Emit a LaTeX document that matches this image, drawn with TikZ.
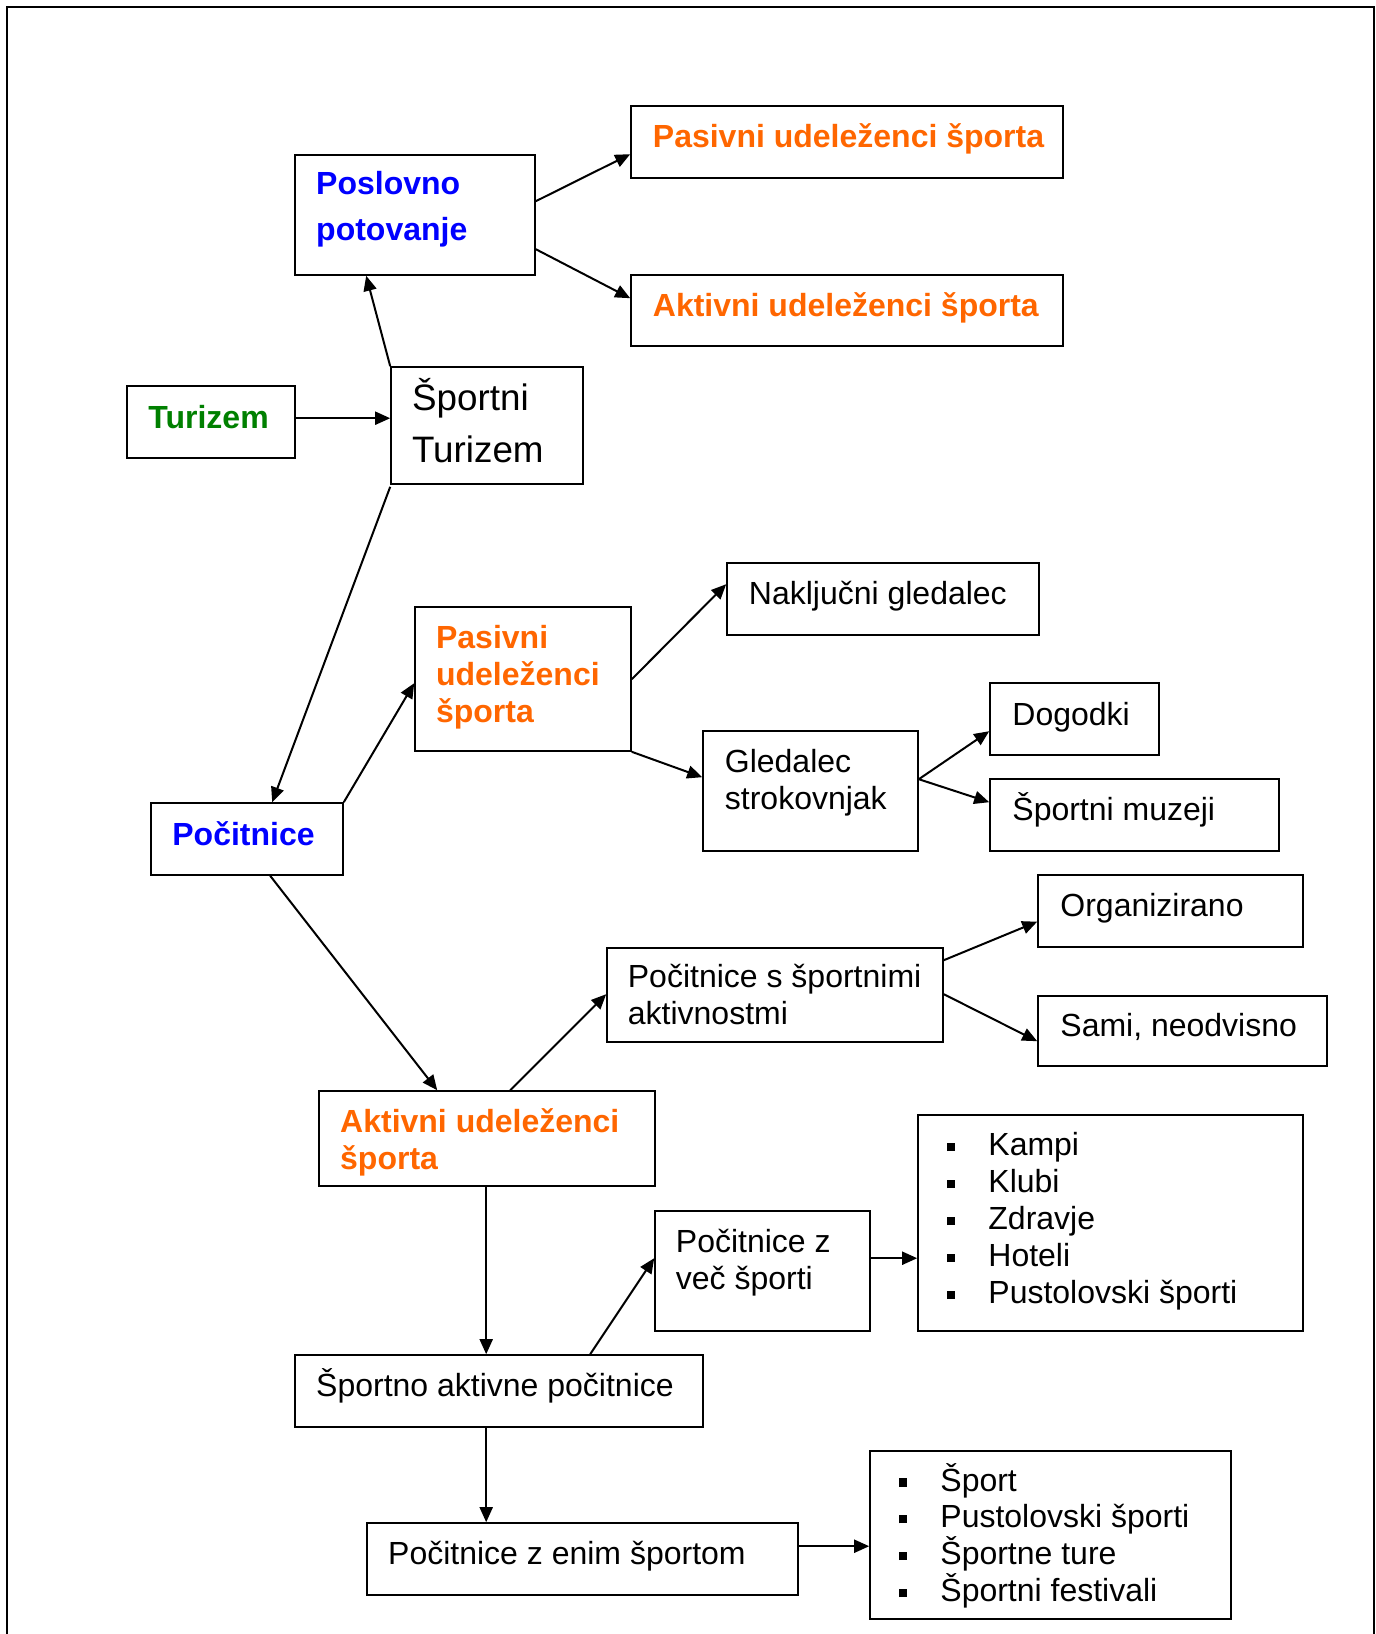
\documentclass[tikz,border=0pt]{standalone}
\usepackage{fontspec}
\setmainfont{Liberation Sans}
\usetikzlibrary{arrows.meta,fit}
\definecolor{orng}{HTML}{FF6600}
\definecolor{blu}{HTML}{0000FF}
\definecolor{grn}{HTML}{008000}
\tikzset{
  box/.style={draw, line width=0.8pt, inner sep=0pt, fill=none},
  txt/.style={anchor=base west, inner sep=0pt, align=left, font=\fontsize{16}{18.5}\selectfont},
  ttl/.style={txt, font=\fontsize{16}{18.5}\selectfont\bfseries},
  arr/.style={line width=1pt, -{Triangle[length=7.5pt,width=6.5pt]}},
}
\newcommand{\bul}{\makebox[20.75pt][l]{\raisebox{2.2pt}{\rule{4.2pt}{4.2pt}}}}
\begin{document}
\begin{tikzpicture}[x=0.5pt,y=-0.5pt]
\useasboundingbox (0,0) rectangle (1376,1634);
\draw[line width=1pt] (7,1640) -- (7,7) -- (1374,7) -- (1374,1640);
% boxes
\node[box, fit={(295,155) (535,275)}] (pos) {};
\node[box, fit={(631,106) (1063,178)}] (pastop) {};
\node[box, fit={(631,275) (1063,346)}] (akttop) {};
\node[box, fit={(127,386) (295,458)}] (tur) {};
\node[box, fit={(391,367) (583,484)}] (st) {};
\node[box, fit={(727,563) (1039,635)}] (nak) {};
\node[box, fit={(415,607) (631,751)}] (pasmid) {};
\node[box, fit={(990,683) (1159,755)}] (dog) {};
\node[box, fit={(703,731) (918,851)}] (gle) {};
\node[box, fit={(990,779) (1279,851)}] (muz) {};
\node[box, fit={(151,803) (343,875)}] (poc) {};
\node[box, fit={(1038,875) (1303,947)}] (org) {};
\node[box, fit={(607,948) (943,1042)}] (pocs) {};
\node[box, fit={(1038,996) (1327,1066)}] (sami) {};
\node[box, fit={(319,1091) (655,1186)}] (aktbot) {};
\node[box, fit={(918,1115) (1303,1331)}] (kampi) {};
\node[box, fit={(655,1211) (870,1331)}] (vec) {};
\node[box, fit={(295,1355) (703,1427)}] (spa) {};
\node[box, fit={(367,1523) (798,1595)}] (enim) {};
\node[box, fit={(870,1451) (1231,1619)}] (sport) {};
% texts (multi-line nodes: base = last line)
\node[ttl, text=blu, font=\fontsize{16}{23}\selectfont\bfseries] (pos-t) at (315.8,240.5) {Poslovno\\potovanje};
\node[ttl, text=orng] (pastop-t) at (652.5,147.6) {Pasivni udeleženci športa};
\node[ttl, text=orng] (akttop-t) at (652.5,316.4) {Aktivni udeleženci športa};
\node[ttl, text=grn] (tur-t) at (148,428) {Turizem};
\node[txt, font=\fontsize{18.4}{26}\selectfont] (st-t) at (411.7,462) {Športni\\Turizem};
\node[txt] (nak-t) at (748.5,604) {Naključni gledalec};
\node[ttl, text=orng] (pasmid-t) at (435.7,722) {Pasivni\\udeleženci\\športa};
\node[txt] (dog-t) at (1012,725) {Dogodki};
\node[txt] (gle-t) at (724.5,809.5) {Gledalec\\strokovnjak};
\node[txt] (muz-t) at (1012,820) {Športni muzeji};
\node[ttl, text=blu] (poc-t) at (172,845) {Počitnice};
\node[txt] (org-t) at (1060,916) {Organizirano};
\node[txt] (pocs-t) at (627.5,1024.5) {Počitnice s športnimi\\aktivnostmi};
\node[txt] (sami-t) at (1060,1036) {Sami, neodvisno};
\node[ttl, text=orng] (aktbot-t) at (339.8,1169) {Aktivni udeleženci\\športa};
\node[txt] (kampi-t) at (946.5,1303.6) {\bul Kampi\\\bul Klubi\\\bul Zdravje\\\bul Hoteli\\\bul Pustolovski športi};
\node[txt] (vec-t) at (675.5,1289) {Počitnice z\\več športi};
\node[txt] (spa-t) at (315.8,1396) {Športno aktivne počitnice};
\node[txt] (enim-t) at (387.8,1564) {Počitnice z enim športom};
\node[txt, font=\fontsize{16}{18.4}\selectfont] (sport-t) at (898.5,1601.4) {\bul Šport\\\bul Pustolovski športi\\\bul Športne ture\\\bul Športni festivali};
% connectors
\draw[arr] ([yshift=-23.5pt]pos.north east) -- ([yshift=-24.5pt]pastop.north west);
\draw[arr] ([yshift=-47.5pt]pos.north east) -- ([yshift=-12pt]akttop.north west);
\draw[arr] (st.north west) -- ([xshift=36pt]pos.south west);
\draw[arr] ([yshift=-16.5pt]tur.north east) -- ([yshift=-26pt]st.north west);
\draw[arr] ([yshift=-1pt]st.south west) -- ([xshift=61pt]poc.north west);
\draw[arr] (poc.north east) -- ([yshift=-38.5pt]pasmid.north west);
\draw[arr] ([yshift=-36.5pt]pasmid.north east) -- ([yshift=-11pt]nak.north west);
\draw[arr] (pasmid.south east) -- ([yshift=-23.5pt]gle.north west);
\draw[arr] ([yshift=-24.5pt]gle.north east) -- ([yshift=-24.5pt]dog.north west);
\draw[arr] ([yshift=-24.5pt]gle.north east) -- ([yshift=-12pt]muz.north west);
\draw[arr] ([xshift=60pt]poc.south west) -- ([xshift=59.5pt]aktbot.north west);
\draw[arr] ([xshift=96pt]aktbot.north west) -- ([yshift=-23.5pt]pocs.north west);
\draw[arr] ([yshift=-6.5pt]pocs.north east) -- ([yshift=-23.75pt]org.north west);
\draw[arr] ([yshift=-23.5pt]pocs.north east) -- ([yshift=-23pt]sami.north west);
\draw[arr] ([xshift=84pt]aktbot.south west) -- ([xshift=96pt]spa.north west);
\draw[arr] ([xshift=148pt]spa.north west) -- ([yshift=-24pt]vec.north west);
\draw[arr] ([yshift=-24pt]vec.north east) -- ([yshift=-72pt]kampi.north west);
\draw[arr] ([xshift=96pt]spa.south west) -- ([xshift=60pt]enim.north west);
\draw[arr] ([yshift=-12pt]enim.north east) -- ([yshift=-48pt]sport.north west);
\end{tikzpicture}
\end{document}
